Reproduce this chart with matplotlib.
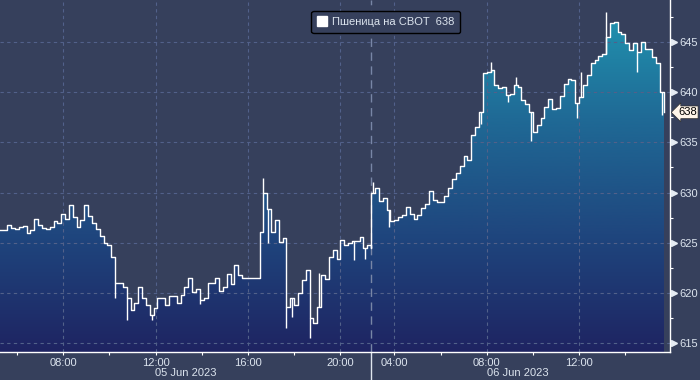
import numpy as np
import matplotlib
matplotlib.use("Agg")
import matplotlib.pyplot as plt
import matplotlib.transforms as mtransforms
from matplotlib.colors import LinearSegmentedColormap
from matplotlib.lines import Line2D

plt.rcParams['font.family'] = ['Liberation Sans', 'DejaVu Sans']

# ---------------- data ----------------
series_name = "Пшеница на CBOT"
step_minutes = 10
day1 = "05 Jun 2023"
day2 = "06 Jun 2023"
day1_close = "21:20"
day2_open = "03:00"
view_start = "05:16"
view_end = "15:56"

sess_day = [day1, day1, day2]
sess_start = ["05:15", "16:30", "03:00"]

d1_night = [626.3, 626.3, 626.8, 626.5, 626.4, 626.6, 626.7, 626.0, 626.3, 627.4,
            626.8, 626.5, 626.4, 626.6, 627.2, 627.0, 627.9, 627.4, 628.8, 627.6,
            626.6, 627.3, 628.8, 627.7, 627.0, 626.4, 625.7, 625.0, 624.8, 623.6,
            621.0, 621.0, 620.6, 619.5, 618.3, 619.0, 620.6, 619.5, 618.8, 617.8,
            618.5, 619.5, 619.5, 618.8, 619.7, 619.7, 619.0, 619.8, 620.6, 621.5,
            620.1, 620.4, 619.3, 619.5, 621.0, 621.0, 621.5, 620.2, 620.6, 621.9,
            620.9, 622.8, 621.8, 621.5]
d1_day = [626.1, 630.0, 628.4, 626.1, 627.3, 625.1, 625.5, 618.6, 619.5, 618.8,
          620.0, 621.3, 622.3, 617.5, 617.0, 618.6, 621.8, 621.4, 623.6, 624.3,
          623.4, 625.3, 624.8, 625.0, 625.2, 625.2, 625.6, 624.5, 624.8, 624.5]
d2_night = [630.0, 630.5, 629.2, 629.5, 628.3, 627.2, 627.3, 627.6, 627.8, 628.6,
            627.9, 627.4, 627.8, 628.5, 628.9, 630.2, 629.3, 629.1, 629.1, 629.7,
            630.5, 631.4, 631.9, 632.6, 633.6, 633.2, 635.7, 636.5, 638.0, 641.9,
            642.0, 642.2, 640.7, 640.4, 640.5, 639.7, 639.8, 640.7, 640.5, 639.2,
            638.8, 638.0, 636.0, 636.7, 637.4, 638.5, 639.3, 638.3, 638.4, 639.6,
            640.8, 641.3, 641.2, 638.9, 639.5, 640.7, 641.7, 642.9, 643.2, 643.6,
            643.8, 645.5, 646.9, 647.0, 646.0, 645.8, 644.9, 644.2, 644.9, 644.0,
            645.0, 644.3, 644.3, 643.5, 642.9, 640.0, 638.0]
sess_values = [d1_night, d1_day, d2_night]

# short intra-bar extremes (vertical ticks of the line)
spike_day = [day1, day1, day1, day1, day1, day1, day1, day1, day1, day1, day1, day1,
             day2, day2, day2, day2, day2, day2, day2, day2, day2, day2, day2, day2]
spike_time = ["10:15", "10:45", "11:50", "13:55", "16:40", "16:52", "17:40", "17:55",
              "18:40", "19:05", "20:35", "21:05",
              "03:05", "03:45", "07:45", "08:10", "08:55", "09:15", "09:55", "11:55",
              "12:05", "13:10", "14:30", "15:35"]
spike_val = [619.5, 617.3, 617.3, 618.9, 631.5, 625.0, 616.5, 617.6,
             615.5, 622.0, 623.3, 623.4,
             631.1, 626.6, 636.8, 643.0, 639.0, 641.5, 635.1, 637.4,
             642.0, 648.0, 642.0, 637.7]

major_day1 = ["08:00", "12:00", "16:00", "20:00"]
major_day2 = ["04:00", "08:00", "12:00"]
minor_day1 = ["06:00", "10:00", "14:00", "18:00"]
minor_day2 = ["06:00", "10:00", "14:00"]
y_ticks = [615, 620, 625, 630, 635, 640, 645]
y_minor = [617.5, 622.5, 627.5, 632.5, 637.5, 642.5, 647.5]
y_lim = (614.1, 649.2)

# ---------------- helpers ----------------
def hrs(t):
    h, m = t.split(":")
    return int(h) + int(m) / 60.0

gap = hrs(day2_open) + 24 - hrs(day1_close)

def comp(day, t):
    return hrs(t) if day == day1 else hrs(t) + 24 - gap

xs, ys = [], []
for d, s, vals in zip(sess_day, sess_start, sess_values):
    x0 = comp(d, s)
    xs.extend(x0 + np.arange(len(vals)) * step_minutes / 60.0)
    ys.extend(vals)
xs = np.array(xs)
ys = np.array(ys)
last = ys[-1]

bg = "#36405C"
txt = "#DCE4EE"
grid_c = "#52618A"

fig = plt.figure(figsize=(7, 3.8), dpi=100, facecolor=bg)
ax = fig.add_axes([0, 1 - 352 / 380, 670 / 700, 352 / 380])
ax.set_facecolor(bg)

xl = (comp(day1, view_start), comp(day2, view_end))

# gradient fill
cmap = LinearSegmentedColormap.from_list("g", ["#1E2462", "#1F467E", "#1F6A96", "#2198B2"])
grad = np.linspace(0, 1, 256).reshape(-1, 1)
im = ax.imshow(grad, extent=[xl[0], xl[1], y_lim[0], y_lim[1]], origin="lower",
               aspect="auto", cmap=cmap, zorder=1)
poly = ax.fill_between(xs, ys, y_lim[0], step="post", facecolor="none", edgecolor="none")
im.set_clip_path(poly.get_paths()[0], transform=ax.transData)

ax.step(xs, ys, where="post", color="white", lw=1.0, zorder=4)

sx = np.array([comp(d, t) for d, t in zip(spike_day, spike_time)])
idx = np.clip(np.searchsorted(xs, sx, side="right") - 1, 0, len(xs) - 1)
ax.vlines(sx, ys[idx], spike_val, color="white", lw=1.0, zorder=4)

ax.set_xlim(*xl)
ax.set_ylim(*y_lim)

# ticks
maj_x = [comp(day1, t) for t in major_day1] + [comp(day2, t) for t in major_day2]
min_x = [comp(day1, t) for t in minor_day1] + [comp(day2, t) for t in minor_day2]
ax.set_xticks(maj_x)
ax.set_xticklabels(major_day1 + major_day2)
ax.set_xticks(min_x, minor=True)
ax.yaxis.tick_right()
ax.set_yticks(y_ticks)
ax.set_yticks(y_minor, minor=True)
ax.tick_params(axis="x", which="both", colors="white", labelcolor=txt, labelsize=8,
               direction="out", length=2.5, width=0.8, pad=1.5)
ax.tick_params(axis="y", which="major", length=0, pad=6.5, labelcolor=txt, labelsize=8)
ax.tick_params(axis="y", which="minor", length=2, width=0.8, colors="white")

ax.grid(True, which="major", color=grid_c, ls=(0, (3, 3)), lw=0.8, zorder=2)
ax.set_axisbelow(False)
for gl in ax.get_xgridlines() + ax.get_ygridlines():
    gl.set_zorder(2)

for s in ["left", "top"]:
    ax.spines[s].set_visible(False)
for s in ["right", "bottom"]:
    ax.spines[s].set_color("white")
    ax.spines[s].set_linewidth(1.0)
    ax.spines[s].set_zorder(6)

# tick triangles on right axis
bt = mtransforms.blended_transform_factory(ax.transAxes, ax.transData)
ax.plot([1 + 3.5 / 670] * len(y_ticks), y_ticks, ls="none", marker=">", ms=5,
        color="#E6ECF3", transform=bt, clip_on=False, zorder=7)

# separator between days
sep = comp(day2, day2_open)
ax.axvline(sep, color="#7886A6", lw=1.0, ls=(0, (6, 4)), zorder=3)
bx = mtransforms.blended_transform_factory(ax.transData, ax.transAxes)
ax.add_line(Line2D([sep, sep], [0, -30 / 352], transform=bx, color="#E0E6EE",
                   lw=1.0, clip_on=False))

# date labels
ax.text((xl[0] + sep) / 2, -20.8 / 352, day1, transform=bx, ha="center", va="center",
        fontsize=8, color=txt)
ax.text((sep + xs[-1]) / 2, -20.8 / 352, day2, transform=bx, ha="center", va="center",
        fontsize=8, color=txt)

# last value tag
ax.text(1.0, last, f"{last:.0f}",
        transform=mtransforms.offset_copy(bt, fig=fig, x=8, y=0, units="dots"),
        ha="left", va="center", fontsize=8, color="black", zorder=10, clip_on=False,
        bbox=dict(boxstyle="larrow,pad=0.12", fc="#FFF5E9", ec="#303030", lw=0.5))

# legend
h = Line2D([], [], marker="s", color="none", markerfacecolor="white",
           markeredgecolor="white", markersize=7, linestyle="none")
leg = ax.legend([h], [f"{series_name}  {last:.0f}"], loc="upper center",
                bbox_to_anchor=(0.576, 0.984), frameon=True, fancybox=True,
                facecolor=bg, edgecolor="black", framealpha=1, fontsize=8,
                labelcolor=txt, handlelength=0.8, handletextpad=0.5, borderpad=0.55)
leg.get_frame().set_linewidth(1.0)
leg.set_zorder(8)

fig.savefig("out.png", dpi=100, facecolor=bg)
